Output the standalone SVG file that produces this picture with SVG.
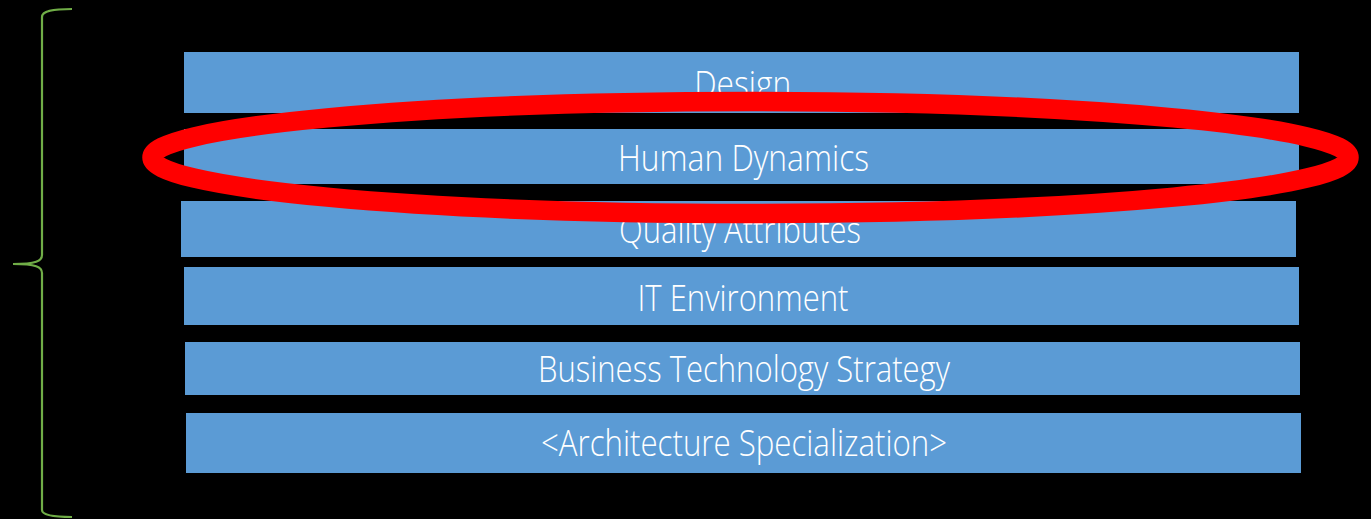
<svg xmlns="http://www.w3.org/2000/svg" width="1371" height="519" viewBox="0 0 1371 519">
  <style>
    .box { fill: #5B9BD5; }
    .lbl { fill: #FFFFFF; font-family: "Open Sans", "Noto Sans", "Liberation Sans", sans-serif; font-size: 37px; font-weight: 300; text-anchor: middle; }
  </style>
  <rect x="0" y="0" width="1371" height="519" fill="#000000"/>
  <g id="design">
    <rect class="box" x="184" y="52" width="1115" height="61"/>
    <text class="lbl" x="742.7" y="96.5" textLength="97" lengthAdjust="spacingAndGlyphs">Design</text>
  </g>
  <g id="human-dynamics">
    <rect class="box" x="184" y="129" width="1115" height="55"/>
    <text class="lbl" x="743.5" y="170.5" textLength="251" lengthAdjust="spacingAndGlyphs">Human Dynamics</text>
  </g>
  <g id="quality-attributes">
    <rect class="box" x="181" y="201" width="1115" height="56"/>
    <text class="lbl" x="740" y="242.5" textLength="242" lengthAdjust="spacingAndGlyphs">Quality Attributes</text>
  </g>
  <g id="it-environment">
    <rect class="box" x="184" y="267" width="1115" height="58"/>
    <text class="lbl" x="743" y="310.5" textLength="211" lengthAdjust="spacingAndGlyphs">IT Environment</text>
  </g>
  <g id="business-technology-strategy">
    <rect class="box" x="185" y="342" width="1115" height="53"/>
    <text class="lbl" x="744" y="382" textLength="412" lengthAdjust="spacingAndGlyphs">Business Technology Strategy</text>
  </g>
  <g id="architecture-specialization">
    <rect class="box" x="186" y="413" width="1115" height="60"/>
    <text class="lbl" x="744" y="455.5" textLength="406" lengthAdjust="spacingAndGlyphs">&lt;Architecture Specialization&gt;</text>
  </g>
  <g id="highlight">
    <ellipse cx="750.5" cy="157.5" rx="598.5" ry="56" fill="none" stroke="#FF0000" stroke-width="19.5"/>
  </g>
  <g id="brace">
    <path d="M72,9 C52,9 42,11 42,17 L42,255 C42,261 36,264 13,264 C36,264 42,267 42,273 L42,510 C42,515 52,517 72,517" fill="none" stroke="#70AD47" stroke-width="2.2"/>
  </g>
</svg>
